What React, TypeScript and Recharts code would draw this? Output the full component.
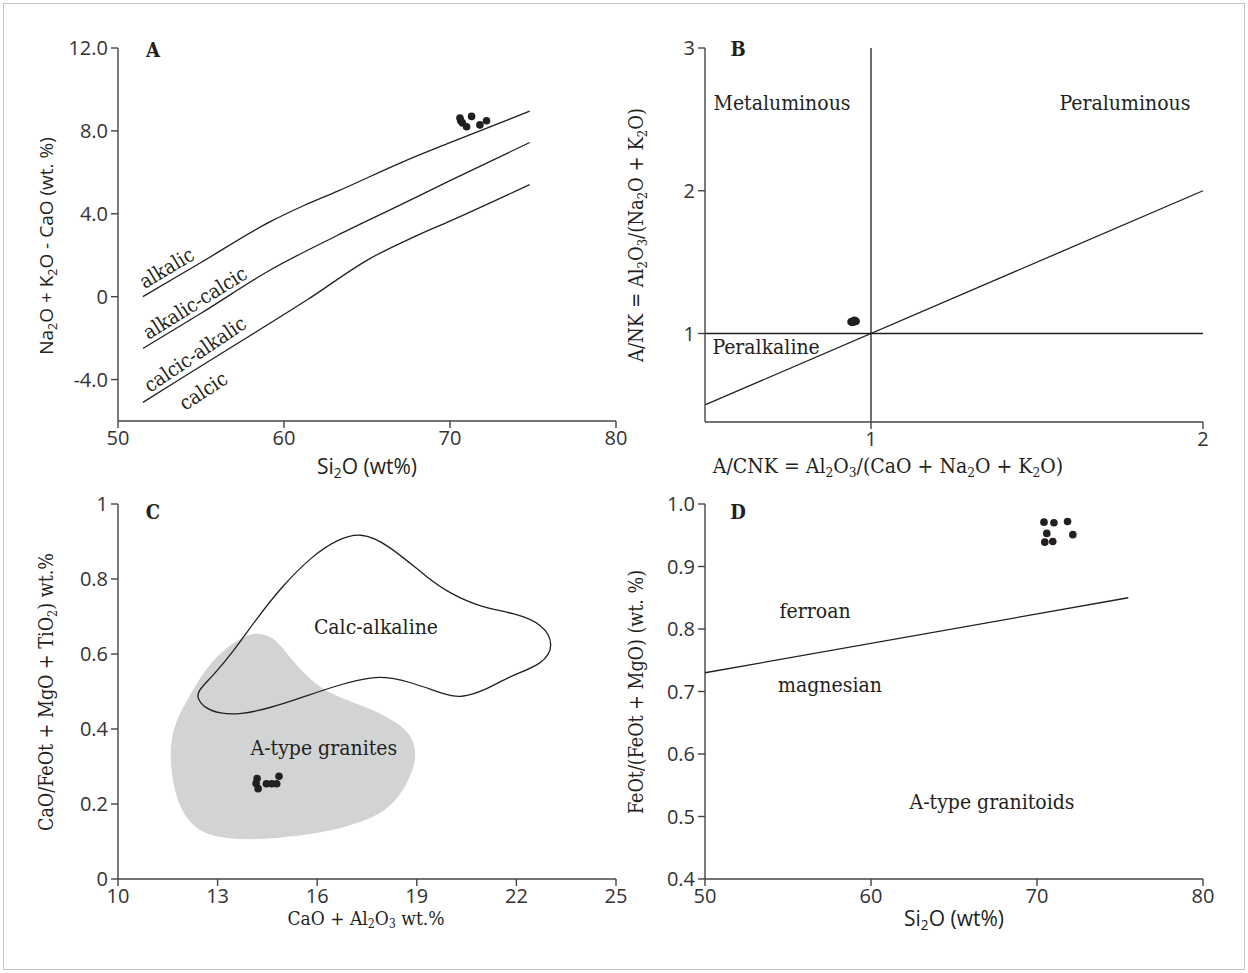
import React from "react";
import { ScatterChart, Scatter, XAxis, YAxis, ReferenceLine, ReferenceDot, Label } from "recharts";

const SERIF = "'DejaVu Serif Condensed', 'Liberation Serif', serif";
const SANS = "'Open Sans', 'Noto Sans', sans-serif";
const INK = "#231f20";
const GREY = "#d1d3d4";
const W = 1248;
const H = 973;

// ---- panel A: Si2O vs MALI
const aTicksX = [50, 60, 70, 80];
const aTicksY = [-4, 0, 4, 8, 12];
const alkalic = [
  { x: 51.5, y: 0.0 }, { x: 55, y: 1.65 }, { x: 59.2, y: 3.63 }, { x: 61.2, y: 4.4 },
  { x: 63.2, y: 5.08 }, { x: 67.2, y: 6.52 }, { x: 70, y: 7.43 }, { x: 74.8, y: 8.95 },
];
const alkalicCalcic = [
  { x: 51.5, y: -2.5 }, { x: 55, y: -0.8 }, { x: 59.2, y: 1.3 }, { x: 63.2, y: 2.95 },
  { x: 67.2, y: 4.5 }, { x: 70, y: 5.6 }, { x: 74.8, y: 7.44 },
];
const calcicAlkalic = [
  { x: 51.5, y: -5.1 }, { x: 56, y: -2.85 }, { x: 61.4, y: -0.15 }, { x: 65.2, y: 1.85 },
  { x: 68, y: 2.95 }, { x: 70, y: 3.65 }, { x: 74.8, y: 5.41 },
];
const samplesA = [
  { x: 70.6, y: 8.62 }, { x: 70.65, y: 8.49 }, { x: 70.75, y: 8.38 }, { x: 71.0, y: 8.2 },
  { x: 71.3, y: 8.7 }, { x: 71.8, y: 8.29 }, { x: 72.2, y: 8.49 },
];

// ---- panel B: A/CNK vs A/NK
const bTicksX = [1, 2];
const bTicksY = [1, 2, 3];
const bDiagonal = [{ x: 0.5, y: 0.5 }, { x: 2, y: 2 }];
const bHorizontal = [{ x: 0.5, y: 1 }, { x: 2, y: 1 }];
const bVertical = [{ x: 1, y: 0.38 }, { x: 1, y: 3 }];
const samplesB = [
  { x: 0.94, y: 1.082 }, { x: 0.945, y: 1.086 }, { x: 0.948, y: 1.08 }, { x: 0.952, y: 1.089 },
  { x: 0.955, y: 1.085 }, { x: 0.943, y: 1.078 }, { x: 0.95, y: 1.092 },
];

// ---- panel C: CaO + Al2O3 vs CaO/(FeOt + MgO + TiO2)
const cTicksX = [10, 13, 16, 19, 22, 25];
const cTicksY = [0, 0.2, 0.4, 0.6, 0.8, 1];
const aTypeField = [
  { x: 14.23, y: 0.657 }, { x: 14.68, y: 0.646 }, { x: 15.08, y: 0.602 }, { x: 15.58, y: 0.549 },
  { x: 16.29, y: 0.495 }, { x: 17.49, y: 0.459 }, { x: 18.29, y: 0.424 }, { x: 18.8, y: 0.39 },
  { x: 19.0, y: 0.34 }, { x: 18.9, y: 0.29 }, { x: 18.5, y: 0.22 }, { x: 17.9, y: 0.17 },
  { x: 16.8, y: 0.135 }, { x: 15.5, y: 0.115 }, { x: 14.0, y: 0.103 }, { x: 12.9, y: 0.11 },
  { x: 12.2, y: 0.14 }, { x: 11.75, y: 0.21 }, { x: 11.55, y: 0.31 }, { x: 11.62, y: 0.4 },
  { x: 12.07, y: 0.477 }, { x: 12.67, y: 0.566 }, { x: 13.27, y: 0.619 }, { x: 13.88, y: 0.651 },
];
const calcAlkalineField = [
  { x: 16.6, y: 0.905 }, { x: 17.3, y: 0.925 }, { x: 18.1, y: 0.895 }, { x: 19.4, y: 0.797 },
  { x: 20.0, y: 0.762 }, { x: 20.9, y: 0.725 }, { x: 21.96, y: 0.709 }, { x: 22.8, y: 0.68 },
  { x: 23.15, y: 0.624 }, { x: 22.8, y: 0.572 }, { x: 21.81, y: 0.542 }, { x: 21.05, y: 0.502 },
  { x: 20.3, y: 0.483 }, { x: 19.9, y: 0.49 }, { x: 18.8, y: 0.526 }, { x: 17.79, y: 0.546 },
  { x: 16.48, y: 0.513 }, { x: 15.48, y: 0.482 }, { x: 14.58, y: 0.456 }, { x: 13.67, y: 0.438 },
  { x: 13.07, y: 0.441 }, { x: 12.62, y: 0.455 }, { x: 12.35, y: 0.485 }, { x: 12.47, y: 0.508 },
  { x: 12.87, y: 0.543 }, { x: 13.47, y: 0.606 }, { x: 14.18, y: 0.695 }, { x: 14.98, y: 0.785 },
  { x: 15.9, y: 0.865 },
];
const samplesC = [
  { x: 14.16, y: 0.255 }, { x: 14.19, y: 0.268 }, { x: 14.22, y: 0.241 }, { x: 14.47, y: 0.254 },
  { x: 14.63, y: 0.254 }, { x: 14.78, y: 0.254 }, { x: 14.85, y: 0.274 },
];

// ---- panel D: Si2O vs Fe-number
const dTicksX = [50, 60, 70, 80];
const dTicksY = [0.4, 0.5, 0.6, 0.7, 0.8, 0.9, 1.0];
const ferroanLine = [{ x: 50, y: 0.73 }, { x: 75.5, y: 0.85 }];
const samplesD = [
  { x: 70.42, y: 0.971 }, { x: 71.02, y: 0.97 }, { x: 71.84, y: 0.972 }, { x: 70.59, y: 0.953 },
  { x: 72.16, y: 0.951 }, { x: 70.47, y: 0.939 }, { x: 70.95, y: 0.94 },
];

// text with "_n" subscripts
function Rich({ x, y, text, size = 20, rotate = 0, anchor = "middle", weight = "normal", font = SERIF }: any) {
  const parts = text.split(/_(\d)/);
  const shift = size * 0.3;
  return (
    <text
      x={x}
      y={y}
      textAnchor={anchor}
      dominantBaseline="central"
      fontFamily={font}
      fontSize={size}
      fontWeight={weight}
      fill={INK}
      transform={rotate ? `rotate(${rotate} ${x} ${y})` : undefined}
    >
      {parts.map((p: string, i: number) =>
        i % 2 ? (
          <tspan key={i} dy={shift} fontSize={size * 0.65}>{p}</tspan>
        ) : (
          <tspan key={i} dy={i > 0 ? -shift : 0}>{p}</tspan>
        )
      )}
    </text>
  );
}

// label attached to a data point
const note = (text: string, opts: any = {}) => (props: any) => {
  const vb = props.viewBox || {};
  return <Rich x={vb.x} y={vb.y} text={text} size={21} {...opts} />;
};

const dot = (p: any) => <circle cx={p.cx} cy={p.cy} r={3.8} fill={INK} />;
const none = () => <g />;
const tick = { fontSize: 20, fill: "#333", fontFamily: SANS };
const axisStroke = { stroke: "#444", strokeWidth: 1.4 };
const lineStyle = { stroke: INK, strokeWidth: 1.3 };
const xAxisCommon = { type: "number" as const, dataKey: "x", height: 1, tick, axisLine: axisStroke, tickLine: axisStroke, tickSize: 7, tickMargin: 3 };
const yAxisCommon = { type: "number" as const, dataKey: "y", width: 1, tick, axisLine: axisStroke, tickLine: axisStroke, tickSize: 7, tickMargin: 3 };

const fmt1 = (v: number) => (v === 0 ? "0" : v.toFixed(1));
const fmtC = (v: number) => (v === 0 || v === 1 ? String(v) : v.toFixed(1));

function Panel({ margin, children }: any) {
  return (
    <div style={{ position: "absolute", left: 0, top: 0 }}>
      <ScatterChart width={W} height={H} margin={margin}>
        {children}
      </ScatterChart>
    </div>
  );
}

export default function App() {
  return (
    <div style={{ position: "absolute", left: 0, top: 0, width: W, height: H, background: "#fff" }}>
      <div style={{ position: "absolute", left: 3, top: 3, width: 1240, height: 965, border: "1px solid #c4c4c4" }} />

      {/* A */}
      <Panel margin={{ left: 117, right: W - 616, top: 48, bottom: H - 421 - 1 }}>
        <XAxis {...xAxisCommon} domain={[50, 80]} ticks={aTicksX}>
          <Label content={() => <Rich x={367} y={466} font={SANS} size={21} text="Si_2O (wt%)" />} />
        </XAxis>
        <YAxis {...yAxisCommon} domain={[-6, 12]} ticks={aTicksY} tickFormatter={fmt1}>
          <Label content={() => <Rich x={46} y={246} rotate={-90} font={SANS} size={19} text="Na_2O + K_2O - CaO (wt. %)" />} />
        </YAxis>
        <Scatter data={alkalic} line={lineStyle} lineJointType="monotoneX" shape={none} isAnimationActive={false} />
        <Scatter data={alkalicCalcic} line={lineStyle} lineJointType="monotoneX" shape={none} isAnimationActive={false} />
        <Scatter data={calcicAlkalic} line={lineStyle} lineJointType="monotoneX" shape={none} isAnimationActive={false} />
        <Scatter data={samplesA} shape={dot} isAnimationActive={false} />
        <ReferenceDot x={52.1} y={11.9} r={0} label={{ content: note("A", { size: 20, weight: "bold" }) }} />
        <ReferenceDot x={52.93} y={1.39} r={0} label={{ content: note("alkalic", { rotate: -31, size: 20 }) }} />
        <ReferenceDot x={54.64} y={-0.29} r={0} label={{ content: note("alkalic-calcic", { rotate: -32, size: 20 }) }} />
        <ReferenceDot x={54.64} y={-2.77} r={0} label={{ content: note("calcic-alkalic", { rotate: -34, size: 20 }) }} />
        <ReferenceDot x={55.14} y={-4.54} r={0} label={{ content: note("calcic", { rotate: -33, size: 20 }) }} />
      </Panel>

      {/* B */}
      <Panel margin={{ left: 704, right: W - 1203, top: 48, bottom: H - 422 - 1 }}>
        <XAxis {...xAxisCommon} domain={[0.5, 2]} ticks={bTicksX}>
          <Label content={() => <Rich x={888} y={466} size={21} text="A/CNK = Al_2O_3/(CaO + Na_2O + K_2O)" />} />
        </XAxis>
        <YAxis {...yAxisCommon} domain={[0.38, 3]} ticks={bTicksY}>
          <Label content={() => <Rich x={636} y={235} rotate={-90} size={20} text="A/NK = Al_2O_3/(Na_2O + K_2O)" />} />
        </YAxis>
        <ReferenceLine segment={bDiagonal} {...lineStyle} />
        <ReferenceLine segment={bHorizontal} {...lineStyle} />
        <ReferenceLine segment={bVertical} {...lineStyle} />
        <Scatter data={samplesB} shape={dot} isAnimationActive={false} />
        <ReferenceDot x={0.6} y={2.99} r={0} label={{ content: note("B", { size: 20, weight: "bold" }) }} />
        <ReferenceDot x={0.732} y={2.615} r={0} label={{ content: note("Metaluminous") }} />
        <ReferenceDot x={1.765} y={2.615} r={0} label={{ content: note("Peraluminous") }} />
        <ReferenceDot x={0.684} y={0.902} r={0} label={{ content: note("Peralkaline") }} />
      </Panel>

      {/* C */}
      <Panel margin={{ left: 117, right: W - 616, top: 504, bottom: H - 879 - 1 }}>
        <XAxis {...xAxisCommon} domain={[10, 25]} ticks={cTicksX}>
          <Label content={() => <Rich x={366} y={918} size={19} text="CaO + Al_2O_3 wt.%" />} />
        </XAxis>
        <YAxis {...yAxisCommon} domain={[0, 1]} ticks={cTicksY} tickFormatter={fmtC}>
          <Label content={() => <Rich x={46} y={692} rotate={-90} size={19.5} text="CaO/FeOt + MgO + TiO_2) wt.%" />} />
        </YAxis>
        <Scatter data={aTypeField} line={{ fill: GREY, stroke: "none" }} lineJointType="basisClosed" shape={none} isAnimationActive={false} />
        <Scatter data={calcAlkalineField} line={{ fill: "none", ...lineStyle }} lineJointType="basisClosed" shape={none} isAnimationActive={false} />
        <Scatter data={samplesC} shape={dot} isAnimationActive={false} />
        <ReferenceDot x={11.05} y={0.979} r={0} label={{ content: note("C", { size: 20, weight: "bold" }) }} />
        <ReferenceDot x={17.77} y={0.672} r={0} label={{ content: note("Calc-alkaline") }} />
        <ReferenceDot x={16.2} y={0.349} r={0} label={{ content: note("A-type granites") }} />
      </Panel>

      {/* D */}
      <Panel margin={{ left: 704, right: W - 1203, top: 504, bottom: H - 879 - 1 }}>
        <XAxis {...xAxisCommon} domain={[50, 80]} ticks={dTicksX}>
          <Label content={() => <Rich x={954} y={918} font={SANS} size={21} text="Si_2O (wt%)" />} />
        </XAxis>
        <YAxis {...yAxisCommon} domain={[0.4, 1.0]} ticks={dTicksY} tickFormatter={fmt1}>
          <Label content={() => <Rich x={636} y={692} rotate={-90} size={19.5} text="FeOt/(FeOt + MgO) (wt. %)" />} />
        </YAxis>
        <Scatter data={ferroanLine} line={lineStyle} shape={none} isAnimationActive={false} />
        <Scatter data={samplesD} shape={dot} isAnimationActive={false} />
        <ReferenceDot x={51.99} y={0.987} r={0} label={{ content: note("D", { size: 20, weight: "bold" }) }} />
        <ReferenceDot x={56.63} y={0.829} r={0} label={{ content: note("ferroan") }} />
        <ReferenceDot x={57.53} y={0.71} r={0} label={{ content: note("magnesian") }} />
        <ReferenceDot x={67.29} y={0.523} r={0} label={{ content: note("A-type granitoids") }} />
      </Panel>
    </div>
  );
}
